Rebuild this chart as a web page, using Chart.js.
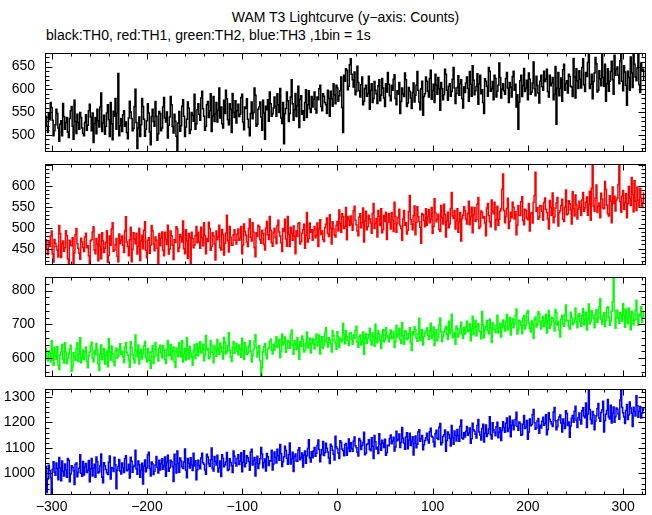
<!DOCTYPE html>
<html lang="en">
<head>
<meta charset="UTF-8">
<title>WAM T3 Lightcurve</title>
<script src="https://cdn.jsdelivr.net/npm/chart.js"></script>
<style>
    body { margin: 0; background: #fff; }
    #page { position: relative; width: 652px; height: 515px; font-family: "Liberation Sans", Arial, sans-serif; color: #000; }
    .title { position: absolute; left: 45px; width: 601px; top: 9px; text-align: center; font-size: 14px; }
    .subtitle { position: absolute; left: 46px; top: 27px; font-size: 14px; }
    .panel { position: absolute; left: 0; width: 652px; }
</style>
</head>
<body>
<div id="page">
    <div class="title">WAM T3 Lightcurve (y−axis: Counts)</div>
    <div class="subtitle">black:TH0, red:TH1, green:TH2, blue:TH3 ,1bin = 1s</div>
    <div class="panel" style="top:35px; height:135px;"><canvas id="th0"></canvas></div>
    <div class="panel" style="top:146px; height:137px;"><canvas id="th1"></canvas></div>
    <div class="panel" style="top:259px; height:136px;"><canvas id="th2"></canvas></div>
    <div class="panel" style="top:371px; height:144px;"><canvas id="th3"></canvas></div>
</div>
<script>
// 1 s bins, first bin at t = -306 s
const binStart = -306;
const binStep = 1;
const xTicks = [-300, -200, -100, 0, 100, 200, 300];

// TH0 (black), 40 bins per row
const th0 = [
    541,519,505,548,533,571,560,532,498,509,522,556,547,515,486,523,531,498,569,540,512,527,538,506,494,536,553,562,519,490,576,529,503,545,527,512,549,538,515,503,
    498,527,544,510,521,553,567,539,509,548,483,525,538,502,556,531,517,561,592,507,526,543,501,519,548,566,533,496,571,524,489,552,541,580,512,547,635,498,520,536,
    507,544,553,519,528,505,491,537,574,550,536,509,514,562,600,527,470,515,539,496,522,580,562,534,497,512,531,568,548,506,478,540,556,529,519,573,541,488,502,551,
    547,509,515,561,582,537,528,550,493,521,539,584,566,518,504,545,530,497,465,526,551,508,520,563,577,541,496,517,534,572,559,503,511,549,543,530,589,512,524,555,
    568,545,532,581,596,557,541,510,519,566,573,538,553,590,507,542,584,529,546,571,528,554,603,537,561,524,515,576,547,598,579,533,522,568,556,505,591,549,538,575,
    526,553,567,540,545,582,589,528,511,561,558,579,534,516,498,547,572,535,549,603,587,519,523,556,561,572,539,510,576,548,490,563,555,577,530,594,568,541,546,559,
    583,562,541,590,566,549,602,537,525,571,480,546,558,594,575,529,547,583,621,568,532,555,591,540,564,607,516,578,586,545,553,532,571,599,538,566,597,557,549,584,
    561,578,594,556,548,583,577,601,609,562,553,590,585,571,566,547,598,580,541,596,579,563,612,588,568,609,603,574,586,597,627,560,505,631,618,645,642,599,607,654,
    667,633,621,605,638,588,596,651,615,597,583,610,627,566,574,602,609,585,591,629,556,598,612,571,580,617,598,590,569,608,621,575,587,624,603,581,562,612,594,637,
    611,586,575,609,598,622,632,580,566,597,589,615,547,573,603,590,584,636,621,562,570,604,596,581,558,593,614,572,587,609,639,598,572,555,601,618,543,584,590,627,
    618,596,583,624,642,578,597,611,571,633,609,589,626,602,554,615,601,577,588,644,633,598,576,607,612,585,595,622,648,603,569,591,604,630,587,612,621,580,559,605,
    593,614,627,602,574,639,611,585,652,620,588,597,606,634,567,612,631,590,599,571,547,623,618,607,585,648,640,596,602,617,577,631,624,583,596,609,658,626,581,600,
    612,597,589,624,637,603,571,615,605,583,628,640,598,611,561,588,512,572,619,631,584,608,646,595,603,620,577,636,622,589,594,614,660,601,586,629,609,592,570,618,
    631,606,598,640,617,622,644,595,583,631,608,614,626,577,589,650,523,603,637,586,602,625,574,643,655,598,613,619,592,633,628,607,605,584,668,627,581,645,619,602,
    641,622,603,648,667,610,595,637,628,659,684,602,611,633,579,617,636,670,656,594,598,641,623,608,690,626,607,655,574,612,645,596,618,639,662,621,589,675,631,644,
    649,631,612,663,680,618,597,652,638,609,565,640,626,598,671,636,604,682,655,627,619,647,686,610,593,658,641,644,622
];

// TH1 (red)
const th1 = [
    471,449,436,467,455,480,492,438,418,472,463,455,447,430,505,486,429,461,468,444,452,493,481,426,413,470,459,457,476,412,440,483,498,462,451,439,425,475,466,453,
    443,478,487,452,457,433,415,469,472,490,502,447,438,474,461,421,484,456,426,488,469,441,451,465,493,417,434,480,458,497,512,444,447,460,474,432,419,485,462,470,
    480,458,441,492,526,466,455,433,471,501,419,448,488,473,462,487,437,455,499,422,468,482,450,494,514,446,428,470,476,439,459,505,493,461,445,478,470,451,412,486,
    457,475,490,446,433,489,472,460,506,437,449,492,481,458,424,471,465,502,497,443,452,484,478,466,516,450,438,495,469,427,486,477,415,489,474,452,459,481,503,464,
    489,466,451,501,476,457,512,482,438,474,467,513,498,446,455,488,480,461,423,492,471,478,506,452,447,496,484,435,463,487,530,469,442,503,477,458,459,483,495,470,
    461,485,497,470,474,503,438,459,509,491,482,466,455,498,521,477,468,512,490,453,431,488,479,506,502,471,463,494,486,460,447,499,515,483,472,527,494,465,456,490,
    499,477,462,505,518,490,480,464,443,498,491,520,473,456,527,484,455,501,486,470,504,479,438,492,479,510,512,461,467,487,495,508,451,482,536,466,474,511,489,495,
    470,494,503,476,481,511,455,497,519,484,492,472,467,500,508,523,486,479,531,498,461,514,497,483,478,506,515,492,542,510,489,533,526,498,503,548,471,527,519,505,
    528,509,494,540,551,518,507,492,481,525,533,500,512,547,466,516,539,495,503,530,521,511,487,534,558,499,510,522,478,541,527,505,545,488,496,529,515,537,472,513,
    533,515,497,536,518,491,561,527,489,510,524,544,505,498,470,521,541,506,512,485,494,538,577,519,508,495,529,552,483,513,550,526,515,501,463,534,531,517,502,545,
    506,527,543,512,521,548,487,503,569,535,514,520,532,496,491,553,524,509,556,531,478,517,537,500,509,546,584,528,522,541,497,516,545,489,513,536,468,522,530,550,
    541,520,509,534,563,507,527,549,488,531,548,515,519,556,572,498,503,540,536,523,526,511,481,547,558,529,514,502,566,538,533,561,495,519,551,506,520,540,545,592,
    628,541,512,527,546,570,498,515,537,524,561,549,521,538,483,506,553,530,529,562,574,517,507,544,541,523,519,558,492,533,536,511,560,577,632,539,548,520,525,553,
    552,539,518,560,571,544,536,521,497,565,548,530,583,512,526,547,559,572,504,536,541,553,568,520,515,549,590,531,533,564,557,542,509,586,546,528,578,555,521,544,
    563,548,529,566,584,539,547,561,573,530,556,587,518,594,650,552,539,571,602,536,551,559,524,582,568,547,545,610,591,554,533,528,576,563,512,597,558,575,540,566,
    571,603,650,562,537,575,589,544,560,581,524,557,598,569,553,620,579,538,612,563,541,597,566,550,594,571,548,560,583
];

// TH2 (green)
const th2 = [
    628,603,592,621,615,588,651,614,579,632,607,596,634,578,566,609,619,641,597,585,645,618,583,599,612,627,638,560,574,616,603,593,627,645,589,611,660,586,601,624,
    596,617,633,590,571,606,618,637,647,599,588,622,610,643,625,583,563,612,639,595,604,628,582,609,621,574,657,618,594,636,613,589,577,620,630,600,605,626,642,611,
    620,604,587,632,645,617,609,594,573,648,631,610,598,585,668,623,604,639,582,615,626,597,612,636,649,601,589,628,617,592,570,619,637,584,603,646,624,608,591,629,
    638,615,601,637,623,596,584,626,652,607,610,640,595,621,633,588,572,630,619,604,646,618,603,651,588,612,628,594,661,625,597,634,615,603,579,622,641,598,609,643,
    607,630,648,615,621,641,592,609,667,624,628,598,604,652,639,617,586,636,622,605,655,627,611,644,633,619,597,661,646,612,618,637,675,623,602,590,631,649,614,628,
    643,621,610,639,627,602,659,624,596,645,632,611,614,636,651,620,588,607,625,650,669,631,603,617,637,592,548,571,619,634,642,609,598,627,630,648,656,623,612,641,
    624,647,663,632,638,656,601,620,671,639,645,662,617,628,652,646,629,670,683,637,611,651,642,625,660,633,596,648,636,665,655,618,622,643,677,630,640,659,615,644,
    658,641,627,655,671,636,646,668,612,650,663,629,639,675,690,647,633,660,654,642,618,681,667,652,645,626,678,663,631,657,659,648,703,670,642,681,664,652,637,673,
    676,655,641,668,659,682,694,647,632,663,668,639,650,677,611,658,673,644,657,669,688,651,639,674,662,635,700,659,645,681,671,653,628,666,684,648,655,690,667,661,
    648,670,683,657,662,679,631,648,697,662,670,688,654,643,705,666,641,681,677,655,659,672,690,646,622,678,668,693,684,659,650,671,718,652,661,684,639,664,675,680,
    689,667,655,681,703,659,668,692,637,674,684,651,661,698,719,677,649,663,678,686,694,670,656,709,672,683,730,660,665,676,641,695,687,662,673,685,706,671,658,690,
    671,692,709,678,683,701,651,686,724,669,690,712,665,694,702,681,679,657,738,699,660,684,693,711,681,672,715,690,646,705,698,683,676,697,727,674,688,703,662,689,
    713,695,680,708,729,684,694,720,668,703,717,690,701,726,745,671,683,712,708,697,672,719,725,686,696,733,741,704,688,677,710,699,659,715,722,692,699,737,731,706,
    686,709,723,693,705,730,674,712,741,688,699,721,717,706,680,744,734,697,708,683,662,715,726,701,694,728,757,710,711,692,685,736,720,699,703,716,748,707,690,725,
    731,708,694,725,746,699,715,736,683,717,760,702,708,741,727,719,690,730,743,706,719,752,776,714,701,727,734,693,712,748,752,721,697,710,739,766,835,742,688,720,
    742,719,703,734,728,710,761,727,691,745,719,702,748,723,684,739,733,699,712,741,771,716,697,730,725,752,706,721,738
];

// TH3 (blue)
const th3 = [
    1028,925,978,1032,1011,984,919,1015,1046,1004,993,1041,1019,975,1062,1022,971,1049,1008,990,1037,1013,985,1058,1052,967,998,1030,1024,1010,956,1036,1041,987,1003,1020,1073,1000,989,1047,
    994,1025,1039,1003,1012,1051,967,1018,1058,990,1021,1036,985,1064,1047,1001,1006,1029,1076,985,963,1042,1030,1015,1002,996,1044,1068,978,1023,1019,1007,1063,1034,940,1012,1027,1055,1009,998,
    1041,1022,1003,1057,1069,1010,1015,1036,982,1063,1048,1004,1026,1031,1091,1017,997,1049,1034,985,1012,1040,958,1028,1053,1006,1021,1072,1083,1019,990,1045,1037,996,1008,1033,1066,1024,1001,1052,
    1013,1038,1057,1016,1030,1064,989,1043,1071,1008,1022,1052,1046,1027,968,1075,1035,1001,1088,1039,1004,1060,1049,1026,1019,1045,1096,1012,983,1058,1040,1021,1061,1033,1011,1079,1029,1050,975,1014,
    1052,1031,1018,1060,1079,1042,1036,1013,997,1075,1064,1038,1028,1054,1100,1019,1009,1066,1047,1033,1071,1005,1021,1049,988,1073,1058,1026,1034,1045,1082,1011,1015,1057,1043,1030,1003,1088,1067,1040,
    1029,1058,1073,1035,1048,1081,1006,1044,1089,1026,1040,1069,1061,1047,1012,1084,1095,1033,1051,1062,990,1041,1067,1019,1038,1057,1102,1076,1022,1043,1056,1009,1078,1065,1031,1050,1049,1091,1013,1037,
    1084,1063,1041,1095,1070,1052,1113,1078,1027,1046,1065,1107,1090,1059,1036,1074,1119,1037,1058,1083,1007,1066,1076,1049,1048,1092,1101,1054,1062,1080,1025,1071,1088,1040,1069,1098,1132,1061,1045,1085,
    1061,1088,1102,1067,1079,1110,1131,1094,1046,1073,1093,1125,1070,1082,1118,1099,1084,1060,1039,1114,1107,1091,1075,1053,1146,1104,1097,1080,1058,1128,1121,1096,1089,1069,1112,1117,1071,1100,1135,1086,
    1120,1098,1087,1126,1143,1109,1101,1083,1068,1137,1129,1094,1110,1121,1162,1073,1079,1113,1116,1132,1095,1089,1140,1107,1058,1149,1124,1096,1103,1078,1156,1115,1091,1130,1118,1102,1134,1071,1082,1111,
    1109,1137,1151,1116,1127,1142,1088,1104,1166,1128,1133,1155,1102,1121,1180,1138,1119,1095,1143,1160,1097,1131,1158,1110,1125,1144,1072,1118,1147,1101,1114,1163,1171,1126,1136,1149,1093,1112,1129,1140,
    1158,1131,1119,1164,1177,1146,1142,1123,1105,1157,1169,1138,1133,1181,1196,1112,1121,1145,1152,1170,1087,1129,1163,1153,1138,1108,1188,1141,1114,1167,1149,1127,1172,1150,1126,1185,1210,1139,1135,1160,
    1143,1165,1184,1150,1159,1178,1118,1136,1197,1171,1166,1154,1139,1188,1212,1163,1151,1131,1176,1193,1123,1158,1190,1145,1157,1174,1223,1152,1135,1199,1170,1161,1148,1183,1201,1140,1162,1179,1129,1168,
    1203,1180,1162,1197,1218,1165,1177,1224,1144,1190,1209,1171,1188,1212,1240,1185,1169,1202,1196,1150,1153,1193,1227,1176,1182,1208,1134,1163,1214,1187,1191,1231,1251,1199,1173,1178,1206,1216,1158,1189,
    1178,1205,1221,1189,1196,1230,1152,1172,1238,1213,1203,1194,1184,1241,1259,1207,1171,1183,1210,1222,1229,1198,1163,1214,1197,1176,1246,1235,1188,1202,1142,1186,1217,1227,1201,1244,1264,1209,1180,1219,
    1237,1210,1194,1246,1258,1225,1219,1277,1180,1233,1330,1251,1212,1195,1243,1229,1171,1206,1226,1254,1275,1218,1205,1239,1249,1283,1163,1208,1232,1247,1290,1222,1214,1268,1198,1236,1261,1201,1223,1257,
    1252,1234,1213,1288,1330,1259,1238,1222,1196,1247,1271,1212,1229,1280,1257,1236,1184,1260,1244,1225,1305,1266,1221,1243,1263,1218,1236,1257,1248
];

// y tick labels per panel
const th0Ticks = [500, 550, 600, 650];
const th1Ticks = [450, 500, 550, 600];
const th2Ticks = [600, 700, 800];
const th3Ticks = [1000, 1100, 1200, 1300];

Chart.defaults.font.family = '"Liberation Sans", Arial, sans-serif';
Chart.defaults.color = '#000';

function fmt(v) {
    return v < 0 ? '\u2212' + Math.abs(v) : String(v);
}

// box around each panel + inward tick marks on all four sides
const frameTicks = {
    id: 'frameTicks',
    afterDatasetsDraw(chart, args, opts) {
        const ctx = chart.ctx;
        const a = chart.chartArea;
        const x = chart.scales.x, y = chart.scales.y;
        const L = Math.round(a.left) + 0.5, R = Math.round(a.right) - 0.5;
        const T = Math.round(a.top) + 0.5, B = Math.round(a.bottom) - 0.5;
        ctx.save();
        ctx.strokeStyle = '#000';
        ctx.lineWidth = 1;
        ctx.strokeRect(L, T, R - L, B - T);
        ctx.beginPath();
        for (let v = Math.ceil(y.min / opts.yMinor) * opts.yMinor; v <= y.max; v += opts.yMinor) {
            const p = Math.round(y.getPixelForValue(v)) + 0.5;
            const len = v % opts.yMajor === 0 ? 7 : 4;
            ctx.moveTo(L, p); ctx.lineTo(L + len, p);
            ctx.moveTo(R, p); ctx.lineTo(R - len, p);
        }
        for (let v = Math.ceil(x.min / 20) * 20; v <= x.max; v += 20) {
            const p = Math.round(x.getPixelForValue(v)) + 0.5;
            const len = v % 100 === 0 ? 6 : 3;
            ctx.moveTo(p, T); ctx.lineTo(p, T + len);
            ctx.moveTo(p, B); ctx.lineTo(p, B - len);
        }
        ctx.stroke();
        ctx.restore();
    }
};

function drawPanel(id, values, color, yMin, yMax, yTicks, yMajor, yMinor, showX) {
    const pts = values.map((v, i) => ({ x: binStart + i * binStep, y: v }));
    new Chart(document.getElementById(id), {
        type: 'line',
        data: {
            datasets: [{
                data: pts,
                borderColor: color,
                borderWidth: 1.5,
                pointRadius: 0,
                stepped: 'middle',
                fill: false
            }]
        },
        options: {
            responsive: true,
            maintainAspectRatio: false,
            animation: false,
            layout: { padding: { top: 12, bottom: showX ? 0 : 12, left: 0, right: 6 } },
            plugins: {
                legend: { display: false },
                tooltip: { enabled: false },
                frameTicks: { yMajor: yMajor, yMinor: yMinor }
            },
            scales: {
                x: {
                    type: 'linear',
                    min: -307,
                    max: 324,
                    display: showX,
                    grid: { display: false, drawTicks: false },
                    border: { display: false },
                    afterBuildTicks: s => { s.ticks = xTicks.map(v => ({ value: v })); },
                    afterFit: s => { if (showX) s.height = 20; },
                    ticks: { font: { size: 14 }, padding: 4, maxRotation: 0, autoSkip: false, callback: v => fmt(v) }
                },
                y: {
                    min: yMin,
                    max: yMax,
                    grid: { display: false, drawTicks: false },
                    border: { display: false },
                    afterBuildTicks: s => { s.ticks = yTicks.map(v => ({ value: v })); },
                    afterFit: s => { s.width = 45; },
                    ticks: { font: { size: 14 }, padding: 10, autoSkip: false, callback: v => fmt(v) }
                }
            }
        },
        plugins: [frameTicks]
    });
}

drawPanel('th0', th0, '#000000', 463, 679, th0Ticks, 50, 10, false);
drawPanel('th1', th1, '#ff0000', 412, 651, th1Ticks, 50, 10, false);
drawPanel('th2', th2, '#00ff00', 545, 839, th2Ticks, 100, 20, false);
drawPanel('th3', th3, '#0000ff', 915, 1330, th3Ticks, 100, 20, true);
</script>
</body>
</html>
